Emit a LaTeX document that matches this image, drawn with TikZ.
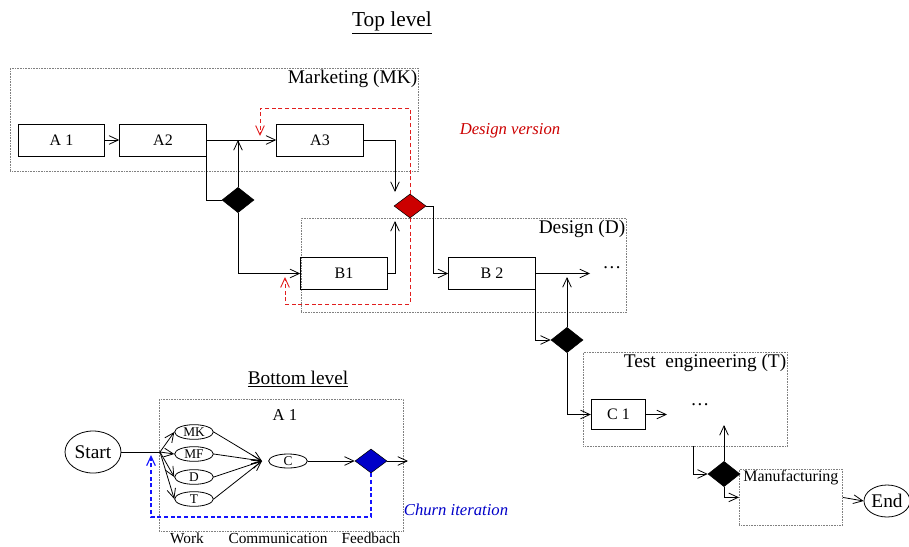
\documentclass[tikz,border=0pt]{standalone}
\usepackage{fontspec}
\setmainfont{Liberation Serif}
\usetikzlibrary{shapes.geometric,arrows.meta}
\definecolor{dred}{RGB}{204,0,0}
\definecolor{lred}{RGB}{225,30,30}
\definecolor{dblue}{RGB}{0,0,200}
\definecolor{lblue}{RGB}{20,20,255}
\tikzset{
  ln/.style={line width=0.6pt},
  tip/.style={-{Straight Barb[length=7pt,width=6.5pt]}},
  arr/.style={ln,tip},
  box/.style={draw,ln,minimum width=65pt,minimum height=24pt,inner sep=0pt,font=\fontsize{12}{14}\selectfont},
  grp/.style={draw=gray,line width=0.6pt,dash pattern=on 0.6pt off 0.6pt,inner sep=0pt,anchor=north west},
  dia/.style={diamond,draw,fill=black,minimum width=24pt,minimum height=19pt,inner sep=0pt},
  redd/.style={line width=0.7pt,dash pattern=on 3pt off 2pt,color=lred},
  blued/.style={line width=0.85pt,dash pattern=on 3pt off 2pt,color=lblue},
  ell/.style={ellipse,draw,ln,inner sep=0pt},
  sell/.style={ell,minimum width=29pt,minimum height=11pt,font=\fontsize{10}{11}\selectfont},
  lbl/.style={inner sep=1pt},
}
\begin{document}
\begin{tikzpicture}[x=0.75pt,y=-0.75pt]
\useasboundingbox (0,0) rectangle (909,546);
% titles
\node[lbl,font=\fontsize{16}{18}\selectfont] (ttop) at (392,23) {\underline{Top level}};
\node[lbl,font=\fontsize{14.5}{17}\selectfont] (tbot) at (298,379) {\underline{Bottom level}};
% group boxes
\node[grp,minimum width=306pt,minimum height=77.25pt] (MKbox) at (10,68) {};
\node[lbl,anchor=north east,font=\fontsize{14.5}{17}\selectfont] (MKlab) at (MKbox.north east) {Marketing (MK)};
\node[grp,minimum width=243.75pt,minimum height=70.5pt] (Dbox) at (301,218) {};
\node[lbl,anchor=north east,font=\fontsize{14.5}{17}\selectfont] (Dlab) at (Dbox.north east) {Design (D)};
\node[grp,minimum width=153pt,minimum height=70.5pt] (Tbox) at (583,352) {};
\node[lbl,anchor=north east,font=\fontsize{14.5}{17}\selectfont] (Tlab) at (Tbox.north east) {Test\ \ engineering (T)};
\node[grp,minimum width=77.25pt,minimum height=42pt] (Mbox) at (739,469) {};
\node[lbl,anchor=north,font=\fontsize{12}{14}\selectfont] (Mlab) at (Mbox.north) {Manufacturing};
% task boxes
\node[box] (A1) at (61.5,140) {A 1};
\node[box] (A2) at (163,140) {A2};
\node[box] (A3) at (320,140) {A3};
\node[box] (B1) at (344,273.5) {B1};
\node[box] (B2) at (492,273.5) {B 2};
\node[box,minimum width=41pt,minimum height=23pt] (C1) at (618.5,414.5) {C 1};
% diamonds
\node[dia] (D1) at (238,200) {};
\node[dia,fill=dred,minimum height=18pt] (RD) at (410,206) {};
\node[dia] (D2) at (567,340) {};
\node[dia] (D3) at (724,474) {};
\node[ell,minimum width=34.5pt,minimum height=24pt,font=\fontsize{14.5}{17}\selectfont] (End) at (887,501) {End};
% dots
\node[lbl,font=\fontsize{14}{16}\selectfont] (dots1) at (612,268) {\dots};
\node[lbl,font=\fontsize{14}{16}\selectfont] (dots2) at (700,405) {\dots};
% coordinates
\coordinate (a3d) at (395,192);
\coordinate (rtop) at (260,108);
\coordinate (rtip) at (260,136);
\coordinate (b1u) at (395,221);
\coordinate (rbot) at (285,304);
\coordinate (rtip2) at (285,277);
\coordinate (rdx) at (433,206);
\coordinate (b2e) at (590,273.5);
\coordinate (d2u) at (567,277);
\coordinate (c1e) at (667,414.5);
\coordinate (tb) at (693,446);
\coordinate (d3u) at (724,425);
% connectors top
\draw[arr] (A1.east) -- (A2.west);
\draw[arr] (A2.east) -- (A3.west);
\draw[ln] (A2.east) |- (D1.west);
\draw[arr] (D1.north) -- (D1.north |- A2.east);
\draw[arr] (D1.south) |- (B1.west);
\draw[arr] (A3.east) -| (a3d);
\draw[redd,tip] (RD.north) |- (rtop) -- (rtip);
\draw[arr] (B1.east) -| (b1u);
\draw[redd,tip] (RD.south) |- (rbot) -- (rtip2);
\draw[arr] (RD.east) -- (rdx) |- (B2.west);
\draw[arr] (B2.east) -- (b2e);
\draw[arr] (B2.south east) |- (D2.west);
\draw[arr] (D2.north) -- (d2u);
\draw[arr] (D2.south) |- (C1.west);
\draw[arr] (C1.east) -- (c1e);
\draw[arr] (tb) |- (D3.west);
\draw[arr] (D3.north) -- (d3u);
\draw[arr] (D3.south) |- (Mbox.west);
\draw[arr] (Mbox.east) -- (End.west);
% text labels
\node[lbl,text=dred,font=\fontsize{12.5}{15}\itshape] (dv) at (510,131) {Design version};
\node[lbl,text=dblue,font=\fontsize{12.5}{15}\itshape] (ci) at (456,510) {Churn iteration};
% bottom level
\node[grp,minimum width=183pt,minimum height=99pt] (A1box) at (159,399) {};
\node[lbl,font=\fontsize{12.5}{15}\selectfont] (A1lab) at (285,415) {A 1};
\node[ell,minimum width=42pt,minimum height=31.5pt,font=\fontsize{14.5}{17}\selectfont] (Start) at (93,452) {Start};
\node[sell] (MK) at (194,432) {MK};
\node[sell] (MF) at (194,454) {MF};
\node[sell] (Dn) at (194,477) {D};
\node[sell] (Tn) at (194,499) {T};
\node[sell,minimum height=10.5pt] (Cn) at (288,461) {C};
\node[dia,fill=dblue,minimum height=18pt] (BD) at (371,461) {};
\coordinate (sp) at (160,452);
\coordinate (cv) at (262,461);
\coordinate (bde) at (408,461);
\coordinate (bbot) at (151,517);
\coordinate (btip) at (151,455);
\draw[ln] (Start.east) -- (sp);
\draw[arr] (sp) -- (MK.west);
\draw[arr] (sp) -- (MF.west);
\draw[arr] (sp) -- (Dn.west);
\draw[arr] (sp) -- (Tn.west);
\draw[arr] (MK.east) -- (cv);
\draw[arr] (MF.east) -- (cv);
\draw[arr] (Dn.east) -- (cv);
\draw[arr] (Tn.east) -- (cv);
\draw[arr] (Cn.east) -- (BD.west);
\draw[arr] (BD.east) -- (bde);
\draw[blued,tip] (BD.south) |- (bbot) -- (btip);
\node[lbl,font=\fontsize{11.5}{14}\selectfont] (work) at (187,538) {Work};
\node[lbl,font=\fontsize{11.5}{14}\selectfont] (comm) at (278,538) {Communication};
\node[lbl,font=\fontsize{11.5}{14}\selectfont] (feed) at (371,538) {Feedbach};
\end{tikzpicture}
\end{document}
